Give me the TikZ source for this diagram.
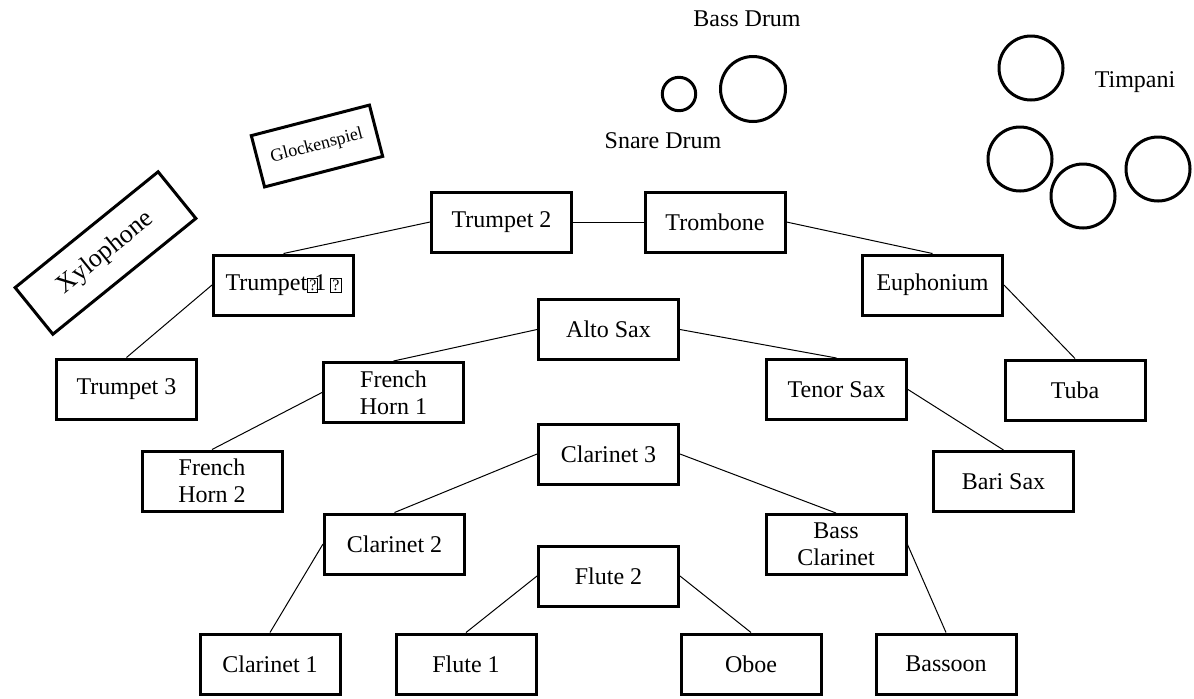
\documentclass[tikz,border=0pt]{standalone}
\usepackage{fontspec}
\setmainfont{Liberation Serif}
\newcommand{\tofu}{{\fboxsep=0.5pt\fboxrule=0.5pt\fbox{\fontsize{8}{8}\selectfont ?}}}

\begin{document}
\begin{tikzpicture}[x=0.5pt, y=-0.5pt,
    seat/.style={draw, line width=1.5pt, minimum width=70pt, minimum height=30pt,
                 inner sep=2pt, align=center, font=\fontsize{12}{13.5}\selectfont},
    drum/.style={draw, circle, line width=1.5pt, inner sep=0pt},
    drumname/.style={font=\fontsize{12}{14}\selectfont},
    link/.style={line width=0.5pt}]

    \useasboundingbox (0,0) rectangle (1194,698);

    % Brass
    \node [seat]    (t2)    at (501.5,222)  {Trumpet 2};
    \node [seat]    (tb)    at (715,222)    {Trombone};
    \node [seat]    (t1)    at (283.5,285)  {Trumpet\tofu\kern-2pt1\kern2pt\tofu};
    \node [seat]    (eu)    at (932.5,285)  {Euphonium};
    \node [seat]    (t3)    at (126.5,389)  {Trumpet 3};
    \node [seat]    (tuba)  at (1075,390)   {Tuba};

    % Horns and saxes
    \node [seat]    (as)    at (608.5,329.5) {Alto Sax};
    \node [seat]    (fh1)   at (393.5,392.5) {French\\Horn 1};
    \node [seat]    (ts)    at (836.5,389.5) {Tenor Sax};
    \node [seat]    (fh2)   at (212,481)     {French\\Horn 2};
    \node [seat]    (bs)    at (1003.5,481.5) {Bari Sax};

    % Woodwinds
    \node [seat]    (c3)    at (608.5,454)  {Clarinet 3};
    \node [seat]    (c2)    at (394.5,544)  {Clarinet 2};
    \node [seat]    (bc)    at (836,544.5)  {Bass\\Clarinet};
    \node [seat]    (f2)    at (608.5,576)  {Flute 2};
    \node [seat]    (c1)    at (270,664)    {Clarinet 1};
    \node [seat]    (f1)    at (466,664)    {Flute 1};
    \node [seat]    (ob)    at (751,664)    {Oboe};
    \node [seat]    (bn)    at (946,664)    {Bassoon};

    % Mallets
    \node [seat, rotate=39, minimum width=92pt, minimum height=30pt,
           font=\fontsize{13}{15}\selectfont]  (xylo)  at (105.5,253) {Xylophone};
    \node [seat, rotate=14.5, minimum width=61pt, minimum height=26.5pt,
           font=\fontsize{9}{11}\selectfont]   (glock) at (317,146)   {Glockenspiel};

    % Drums
    \node [drum, minimum size=16.7pt] (snare) at (679,94)  {};
    \node [drum, minimum size=32.5pt] (bass)  at (753,89)  {};
    \node [drumname]    (bassname)  at (747,19)   {Bass Drum};
    \node [drumname]    (snarename) at (663,141)  {Snare Drum};

    % Timpani
    \node [drum, minimum size=32pt] (tp1) at (1031,68)   {};
    \node [drum, minimum size=32pt] (tp2) at (1020,159)  {};
    \node [drum, minimum size=32pt] (tp3) at (1083,196)  {};
    \node [drum, minimum size=32pt] (tp4) at (1158,169)  {};
    \node [drumname]    (tpname)    at (1135,82)  {Timpani};

    % Paths
    \path [link]    (t2.west)   edge    (t1.north);
    \path [link]    (t2.east)   edge    (tb.west);
    \path [link]    (tb.east)   edge    (eu.north);
    \path [link]    (t1.west)   edge    (t3.north);
    \path [link]    (eu.east)   edge    (tuba.north);
    \path [link]    (as.west)   edge    (fh1.north);
    \path [link]    (as.east)   edge    (ts.north);
    \path [link]    (fh1.west)  edge    (fh2.north);
    \path [link]    (ts.east)   edge    (bs.north);
    \path [link]    (c3.west)   edge    (c2.north);
    \path [link]    (c3.east)   edge    (bc.north);
    \path [link]    (c2.west)   edge    (c1.north);
    \path [link]    (f2.west)   edge    (f1.north);
    \path [link]    (f2.east)   edge    (ob.north);
    \path [link]    (bc.east)   edge    (bn.north);

\end{tikzpicture}
\end{document}
